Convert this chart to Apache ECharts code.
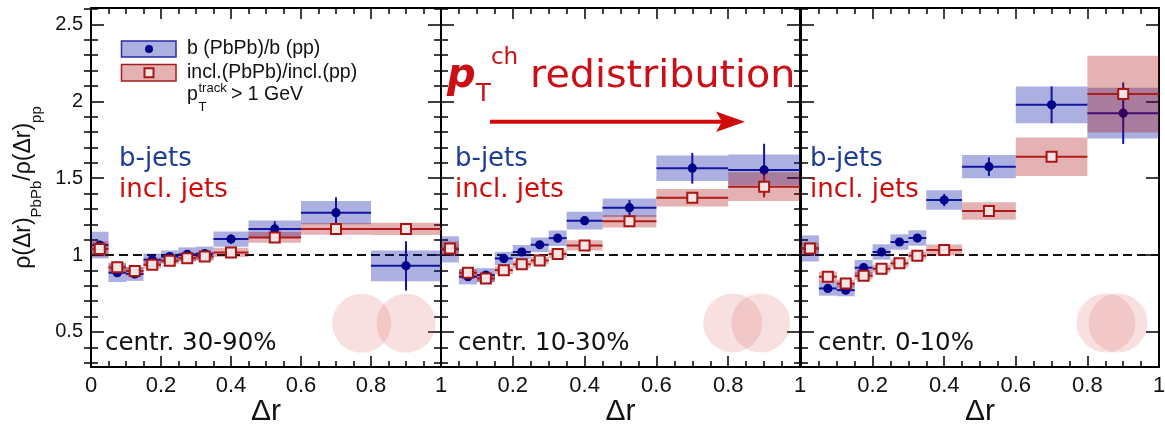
<!DOCTYPE html>
<html>
<head>
<meta charset="utf-8">
<script src="https://cdn.jsdelivr.net/npm/echarts@6/dist/echarts.min.js"></script>
<style>
  html, body { margin: 0; padding: 0; background: #fff; }
  #chart { width: 1165px; height: 426px; }
</style>
</head>
<body>
<div id="chart"></div>
<script>
// Δr bin edges
const binLow  = [0, 0.05, 0.1, 0.15, 0.2, 0.25, 0.3, 0.35, 0.45, 0.6, 0.8];
const binHigh = [0.05, 0.1, 0.15, 0.2, 0.25, 0.3, 0.35, 0.45, 0.6, 0.8, 1.0];

// centrality 30-90%
const bRatio3090    = [1.065, 0.885, 0.877, 0.970, 0.990, 1.005, 1.010, 1.104, 1.170, 1.276, 0.930];
const bStat3090     = [0.020, 0.020, 0.020, 0.020, 0.015, 0.015, 0.020, 0.030, 0.050, 0.100, 0.160];
const bSys3090      = [0.087, 0.060, 0.045, 0.040, 0.040, 0.045, 0.045, 0.050, 0.055, 0.075, 0.100];
const inclRatio3090 = [1.040, 0.920, 0.896, 0.937, 0.963, 0.980, 0.990, 1.017, 1.115, 1.170, 1.170];
const inclStat3090  = [0.010, 0.010, 0.010, 0.010, 0.010, 0.010, 0.010, 0.010, 0.015, 0.020, 0.020];
const inclSys3090   = [0.050, 0.030, 0.025, 0.025, 0.020, 0.020, 0.020, 0.030, 0.035, 0.038, 0.040];

// centrality 10-30%
const bRatio1030    = [1.037, 0.859, 0.870, 0.978, 1.020, 1.067, 1.110, 1.224, 1.308, 1.565, 1.554];
const bStat1030     = [0.015, 0.015, 0.015, 0.015, 0.015, 0.015, 0.020, 0.020, 0.050, 0.100, 0.170];
const bSys1030      = [0.085, 0.050, 0.045, 0.043, 0.045, 0.047, 0.050, 0.057, 0.060, 0.083, 0.100];
const inclRatio1030 = [1.043, 0.885, 0.848, 0.902, 0.940, 0.965, 1.007, 1.063, 1.220, 1.373, 1.445];
const inclStat1030  = [0.010, 0.010, 0.010, 0.010, 0.010, 0.010, 0.010, 0.010, 0.015, 0.020, 0.070];
const inclSys1030   = [0.045, 0.025, 0.025, 0.025, 0.025, 0.025, 0.025, 0.033, 0.040, 0.057, 0.093];

// centrality 0-10%
const bRatio010     = [1.043, 0.783, 0.772, 0.918, 1.020, 1.085, 1.111, 1.358, 1.575, 1.977, 1.923];
const bStat010      = [0.015, 0.015, 0.015, 0.015, 0.015, 0.015, 0.020, 0.040, 0.060, 0.120, 0.200];
const bSys010       = [0.085, 0.047, 0.040, 0.050, 0.050, 0.050, 0.050, 0.063, 0.076, 0.120, 0.165];
const inclRatio010  = [1.043, 0.859, 0.815, 0.865, 0.911, 0.946, 0.996, 1.033, 1.287, 1.640, 2.047];
const inclStat010   = [0.010, 0.010, 0.010, 0.010, 0.010, 0.010, 0.010, 0.010, 0.015, 0.020, 0.040];
const inclSys010    = [0.040, 0.033, 0.025, 0.025, 0.025, 0.025, 0.025, 0.035, 0.057, 0.125, 0.250];

const centralityLabels = ['centr. 30-90%', 'centr. 10-30%', 'centr. 0-10%'];

// axis ticks
const yMajorTicks = [0.5, 1, 1.5, 2, 2.5];
const yMinorTicks = [0.3, 0.4, 0.6, 0.7, 0.8, 0.9, 1.1, 1.2, 1.3, 1.4, 1.6, 1.7, 1.8, 1.9, 2.1, 2.2, 2.3, 2.4, 2.6];
const yMin = 0.272, yMax = 2.607;

const panels = [
  { b: [bRatio3090, bStat3090, bSys3090], incl: [inclRatio3090, inclStat3090, inclSys3090] },
  { b: [bRatio1030, bStat1030, bSys1030], incl: [inclRatio1030, inclStat1030, inclSys1030] },
  { b: [bRatio010,  bStat010,  bSys010],  incl: [inclRatio010,  inclStat010,  inclSys010] }
];

// panel frames in pixels
const frames = [
  { left: 91,  width: 350 },
  { left: 441, width: 359 },
  { left: 801, width: 358 }
];
const TOP = 8, HEIGHT = 359;

const BLUE = { box: 'rgba(0,15,160,0.33)', line: '#1414a0', marker: '#00008b' };
const RED  = { box: 'rgba(165,0,0,0.30)',  line: '#b01a1a', marker: '#a81515' };

const axisFont = 'Liberation Sans, Arial, sans-serif';
const roundFont = 'DejaVu Sans, sans-serif';

function measurementSeries(g, arrays, style, kind) {
  const [ratio, stat, sys] = arrays;
  const data = binLow.map((lo, i) => [lo, binHigh[i], ratio[i], stat[i], sys[i]]);
  return {
    type: 'custom',
    xAxisIndex: g * 2,
    yAxisIndex: g * 4,
    z: kind === 'circle' ? 3 : 4,
    silent: true,
    data: data,
    encode: { x: [0, 1], y: 2 },
    renderItem: function (params, api) {
      const x0 = api.value(0), x1 = api.value(1), y = api.value(2);
      const st = api.value(3), sy = api.value(4);
      const xm = (x0 + x1) / 2;
      const tl = api.coord([x0, y + sy]);
      const br = api.coord([x1, y - sy]);
      const l = api.coord([x0, y]);
      const r = api.coord([x1, y]);
      const t = api.coord([xm, y + st]);
      const b = api.coord([xm, y - st]);
      const c = api.coord([xm, y]);
      const children = [
        { type: 'rect', shape: { x: tl[0], y: tl[1], width: br[0] - tl[0], height: br[1] - tl[1] },
          style: { fill: style.box } },
        { type: 'line', shape: { x1: l[0], y1: l[1], x2: r[0], y2: r[1] },
          style: { stroke: style.line, lineWidth: 2 } },
        { type: 'line', shape: { x1: t[0], y1: t[1], x2: b[0], y2: b[1] },
          style: { stroke: style.line, lineWidth: 2 } }
      ];
      if (kind === 'circle') {
        children.push({ type: 'circle', shape: { cx: c[0], cy: c[1], r: 4.6 },
          style: { fill: style.marker } });
      } else {
        children.push({ type: 'rect', shape: { x: c[0] - 5, y: c[1] - 5, width: 10, height: 10 },
          style: { fill: '#f5e4e4', stroke: style.marker, lineWidth: 2 } });
      }
      return { type: 'group', children: children };
    }
  };
}

const grids = [], xAxes = [], yAxes = [], series = [];

frames.forEach((f, g) => {
  grids.push({ left: f.left, top: TOP, width: f.width, height: HEIGHT,
    containLabel: false, outerBoundsMode: 'none' });

  const xCommon = {
    type: 'value', gridIndex: g, min: 0, max: 1, interval: 0.2,
    splitLine: { show: false },
    axisLine: { show: true, onZero: false, lineStyle: { color: '#000', width: 2 } },
    axisTick: { show: true, inside: true, length: 11, lineStyle: { color: '#000', width: 1.5 } },
    minorTick: { show: true, splitNumber: 4, length: 6, lineStyle: { color: '#000', width: 1.5 } }
  };
  xAxes.push(Object.assign({}, xCommon, {
    position: 'bottom',
    axisLabel: {
      show: true, fontFamily: axisFont, fontSize: 22, color: '#111', margin: 8,
      formatter: v => (g > 0 && v === 0) ? '' : String(v)
    },
    name: 'Δr', nameLocation: 'middle', nameGap: 30, nameMoveOverlap: false,
    nameTextStyle: { fontFamily: axisFont, fontSize: 30, color: '#111', verticalAlign: 'top' }
  }));
  xAxes.push(Object.assign({}, xCommon, { position: 'top', axisLabel: { show: false } }));

  const yCommon = {
    type: 'value', gridIndex: g, min: yMin, max: yMax,
    splitLine: { show: false }
  };
  const yName = g === 0 ? {
    name: '{m|ρ(Δr)}{s|PbPb}{m|/ρ(Δr)}{s|pp}',
    nameLocation: 'middle', nameRotate: 90, nameGap: 47, nameMoveOverlap: false,
    nameTextStyle: {
      rich: {
        m: { fontFamily: axisFont, fontSize: 23, color: '#111', lineHeight: 40, verticalAlign: 'middle' },
        s: { fontFamily: axisFont, fontSize: 15, color: '#111', lineHeight: 16, verticalAlign: 'bottom' }
      }
    }
  } : {};
  // left side: major ticks with labels, then minor ticks
  yAxes.push(Object.assign({}, yCommon, yName, {
    position: 'left',
    axisLine: { show: true, onZero: false, lineStyle: { color: '#000', width: 2 } },
    axisTick: { show: true, inside: true, length: 13, customValues: yMajorTicks, lineStyle: { color: '#000', width: 1.5 } },
    axisLabel: { show: g === 0, customValues: yMajorTicks, fontFamily: axisFont, fontSize: 20, color: '#111', margin: 8 }
  }));
  yAxes.push(Object.assign({}, yCommon, {
    position: 'left',
    axisLine: { show: false },
    axisTick: { show: true, inside: true, length: 7, customValues: yMinorTicks, lineStyle: { color: '#000', width: 1.5 } },
    axisLabel: { show: false }
  }));
  // right side mirrors the ticks
  yAxes.push(Object.assign({}, yCommon, {
    position: 'right',
    axisLine: { show: true, onZero: false, lineStyle: { color: '#000', width: 2 } },
    axisTick: { show: true, inside: true, length: 13, customValues: yMajorTicks, lineStyle: { color: '#000', width: 1.5 } },
    axisLabel: { show: false }
  }));
  yAxes.push(Object.assign({}, yCommon, {
    position: 'right',
    axisLine: { show: false },
    axisTick: { show: true, inside: true, length: 7, customValues: yMinorTicks, lineStyle: { color: '#000', width: 1.5 } },
    axisLabel: { show: false }
  }));

  // unity reference line
  series.push({
    type: 'line', xAxisIndex: g * 2, yAxisIndex: g * 4, z: 2, silent: true,
    symbol: 'none', data: [[0, 1], [1, 1]],
    lineStyle: { color: '#111', width: 2, type: [9, 5] }
  });
  series.push(measurementSeries(g, panels[g].b, BLUE, 'circle'));
  series.push(measurementSeries(g, panels[g].incl, RED, 'square'));
});

// decorations: jet-cone sketches, labels, legend, headline
const graphic = [];
const cones = [
  [[361.7, 323.3], [406.0, 323.3]],
  [[732.7, 323.0], [760.7, 323.0]],
  [[1106.0, 323.0], [1118.0, 323.0]]
];
cones.forEach(pair => pair.forEach(p => graphic.push({
  type: 'circle', shape: { cx: p[0], cy: p[1], r: 29.5 }, z: 1,
  style: { fill: 'rgba(220,100,100,0.2)' }
})));

const labelX = [119, 455, 810];
const centrX = [105, 458, 818];
frames.forEach((f, g) => {
  graphic.push({ type: 'text', x: labelX[g], y: 159, z: 10,
    style: { text: 'b-jets', fill: '#1c3c96', font: '26px ' + roundFont, textVerticalAlign: 'middle' } });
  graphic.push({ type: 'text', x: labelX[g], y: 190, z: 10,
    style: { text: 'incl. jets', fill: '#d10a0a', font: '26px ' + roundFont, textVerticalAlign: 'middle' } });
  graphic.push({ type: 'text', x: centrX[g], y: 344, z: 10,
    style: { text: centralityLabels[g], fill: '#111', font: '24.5px ' + roundFont, textVerticalAlign: 'middle' } });
});

// legend
graphic.push(
  { type: 'rect', shape: { x: 121.5, y: 41, width: 54.5, height: 16 }, z: 10,
    style: { fill: BLUE.box, stroke: '#2a2aa8', lineWidth: 1.5 } },
  { type: 'circle', shape: { cx: 149, cy: 49, r: 4 }, z: 11, style: { fill: BLUE.marker } },
  { type: 'rect', shape: { x: 121.5, y: 64.5, width: 54.5, height: 16.5 }, z: 10,
    style: { fill: RED.box, stroke: '#a51c1c', lineWidth: 1.5 } },
  { type: 'rect', shape: { x: 144.5, y: 68.2, width: 9, height: 9 }, z: 11,
    style: { fill: '#f5e4e4', stroke: RED.marker, lineWidth: 2 } },
  { type: 'text', x: 187, y: 49, z: 10,
    style: { text: 'b (PbPb)/b (pp)', fill: '#111', font: '19.5px ' + axisFont, textVerticalAlign: 'middle' } },
  { type: 'text', x: 187, y: 72.5, z: 10,
    style: { text: 'incl.(PbPb)/incl.(pp)', fill: '#111', font: '19.5px ' + axisFont, textVerticalAlign: 'middle' } },
  { type: 'text', x: 187, y: 95, z: 10,
    style: { text: 'p', fill: '#111', font: '19.5px ' + axisFont, textVerticalAlign: 'middle' } },
  { type: 'text', x: 198.5, y: 88.5, z: 10,
    style: { text: 'track', fill: '#111', font: '13px ' + axisFont, textVerticalAlign: 'middle' } },
  { type: 'text', x: 198.5, y: 107.5, z: 10,
    style: { text: 'T', fill: '#111', font: '13px ' + axisFont, textVerticalAlign: 'middle' } },
  { type: 'text', x: 231, y: 95, z: 10,
    style: { text: '> 1 GeV', fill: '#111', font: '19.5px ' + axisFont, textVerticalAlign: 'middle' } }
);

// headline with arrow
const HEAD_RED = '#cc0f16';
graphic.push(
  { type: 'text', x: 447, y: 77, z: 10,
    style: {
      text: '{p|p}{sub|T}{sup|ch}',
      textVerticalAlign: 'middle',
      rich: {
        p:   { font: 'italic bold 40px ' + roundFont, fill: HEAD_RED, lineHeight: 60, verticalAlign: 'middle' },
        sub: { font: '25px ' + roundFont, fill: HEAD_RED, lineHeight: 26, verticalAlign: 'bottom' },
        sup: { font: '23px ' + roundFont, fill: HEAD_RED, lineHeight: 44, verticalAlign: 'top' }
      }
    } },
  { type: 'text', x: 530, y: 77, z: 10, scaleX: 1.07, originX: 0, originY: 0,
    style: { text: 'redistribution', fill: HEAD_RED, font: '37px ' + roundFont, textVerticalAlign: 'middle' } },
  { type: 'line', shape: { x1: 490, y1: 121.7, x2: 726, y2: 121.7 }, z: 10,
    style: { stroke: '#d10a0a', lineWidth: 4 } },
  { type: 'polygon', shape: { points: [[716, 111.5], [745, 121.7], [716, 131.9], [722, 121.7]] }, z: 10,
    style: { fill: '#d10a0a' } }
);

const chart = echarts.init(document.getElementById('chart'), null, { renderer: 'canvas' });
chart.setOption({
  animation: false,
  backgroundColor: '#fff',
  grid: grids,
  xAxis: xAxes,
  yAxis: yAxes,
  series: series,
  graphic: graphic
});
</script>
</body>
</html>
